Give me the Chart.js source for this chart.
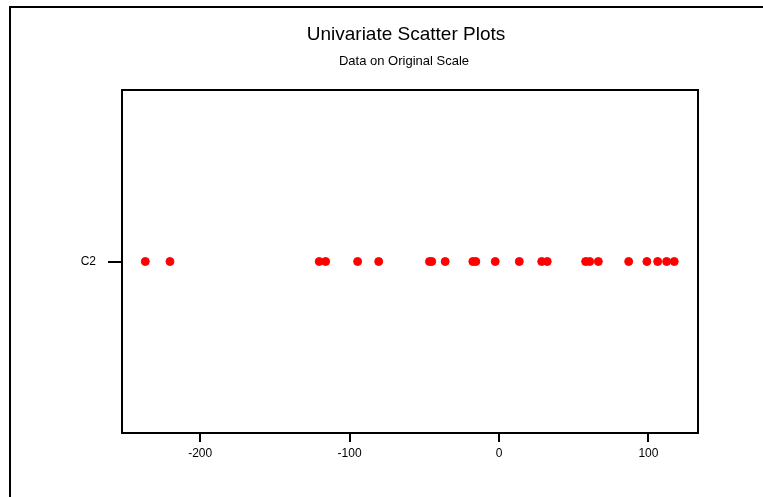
<!DOCTYPE html>
<html>
<head>
<meta charset="utf-8">
<script src="https://cdn.jsdelivr.net/npm/chart.js@4"></script>
<style>
  html, body { margin: 0; padding: 0; background: #fff; }
  #wrap { width: 763px; height: 497px; }
</style>
</head>
<body>
<div id="wrap"><canvas id="myChart" width="763" height="497"></canvas></div>
<script>
const categories = ['C2'];
const c2Values = [-236.7, -220.2, -120.3, -116, -94.6, -80.5, -46.5, -45, -36, -17.5, -15.5,
  -2.5, 13.6, 28.6, 32.3, 58, 60.7, 66.5, 86.8, 99, 106.2, 112.2, 117.3];
const xTicks = [-200, -100, 0, 100];
const titleText = 'Univariate Scatter Plots';
const subtitleText = 'Data on Original Scale';

const ctx = document.getElementById('myChart').getContext('2d');

// frame, box and titles
const decor = {
  id: 'decor',
  afterDraw(chart) {
    const c = chart.ctx;
    const a = chart.chartArea;
    c.save();
    c.strokeStyle = '#000';
    c.lineWidth = 2;
    c.strokeRect(a.left, a.top, a.right - a.left, a.bottom - a.top);
    c.beginPath();
    c.moveTo(10, 600);
    c.lineTo(10, 7);
    c.lineTo(900, 7);
    c.stroke();
    c.fillStyle = '#000';
    c.textAlign = 'center';
    c.textBaseline = 'middle';
    c.font = '19px "Liberation Sans", Arial, sans-serif';
    c.fillText(titleText, 406, 35);
    c.font = '13px "Liberation Sans", Arial, sans-serif';
    c.fillText(subtitleText, 404, 61);
    c.restore();
  }
};

const data = {
  labels: categories,
  datasets: [{
    label: 'C2',
    data: c2Values.map(v => ({ x: v, y: 'C2' })),
    backgroundColor: '#ff0000',
    borderColor: '#ff0000',
    pointRadius: 4,
    pointHoverRadius: 4
  }]
};

const config = {
  type: 'scatter',
  data,
  options: {
    responsive: false,
    animation: false,
    layout: { padding: { left: 0, top: 90, right: 65, bottom: 0 } },
    plugins: {
      legend: { display: false },
      tooltip: { enabled: false },
      title: { display: false }
    },
    scales: {
      x: {
        type: 'linear',
        min: -252.3,
        max: 133.2,
        afterBuildTicks: s => { s.ticks = xTicks.map(v => ({ value: v })); },
        afterFit: s => { s.height = 64; },
        grid: { drawOnChartArea: false, color: '#000', lineWidth: 2, tickLength: 9 },
        border: { display: true, color: '#000', width: 2 },
        ticks: { color: '#000', font: { family: '"Liberation Sans", Arial', size: 12 }, padding: 4, maxRotation: 0 }
      },
      y: {
        type: 'category',
        labels: categories,
        offset: true,
        afterFit: s => { s.width = 122; },
        grid: { drawOnChartArea: false, color: '#000', lineWidth: 2, tickLength: 14, offset: false },
        border: { display: true, color: '#000', width: 2 },
        ticks: { color: '#000', font: { family: '"Liberation Sans", Arial', size: 12 }, padding: 12 }
      }
    }
  },
  plugins: [decor]
};

let myChart = new Chart(ctx, config);
</script>
</body>
</html>
